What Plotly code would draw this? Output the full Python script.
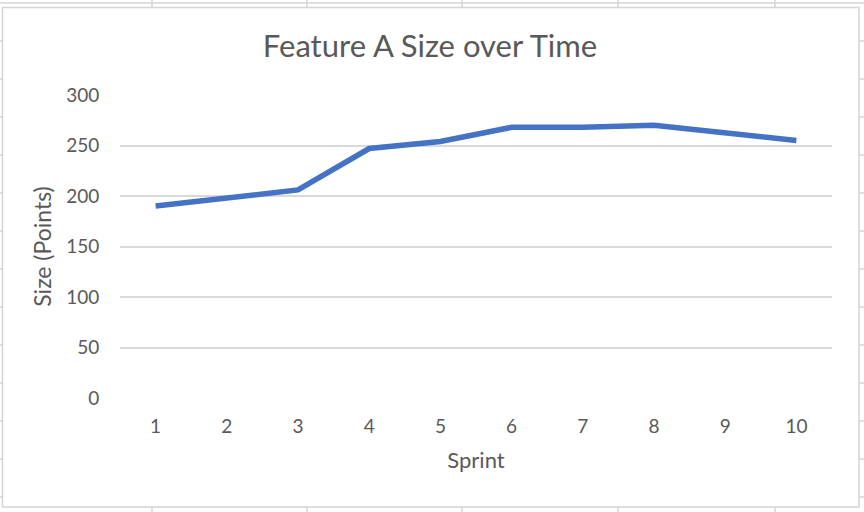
import plotly.graph_objects as go

W, H = 864, 512

sprints = ["1", "2", "3", "4", "5", "6", "7", "8", "9", "10"]
size_points = [190, 198, 206, 247, 254, 268, 268, 270, 263, 255]
y_ticks = [0, 50, 100, 150, 200, 250, 300]

TEXT = "#595959"
GRID = "#D9D9D9"
SHEET = "#D4D4D4"
FONT = "Lato"

# plot area in pixels
PL, PR, PT, PB = 120, 832, 95, 398


def px(x):
    return (x - PL) / (PR - PL)


def py(y):
    return (PB - y) / (PB - PT)


shapes = []
# spreadsheet background lines (outside the chart object)
for yy in [3]:
    shapes.append(dict(type="line", xref="paper", yref="paper", x0=px(0), x1=px(W), y0=py(yy), y1=py(yy),
                       line=dict(color=SHEET, width=1.5), layer="below"))
for yy in [41, 79, 117, 155, 193, 231, 269, 307, 345, 383, 421, 459, 497]:
    shapes.append(dict(type="line", xref="paper", yref="paper", x0=px(0), x1=px(3), y0=py(yy), y1=py(yy),
                       line=dict(color=SHEET, width=1.5), layer="below"))
    shapes.append(dict(type="line", xref="paper", yref="paper", x0=px(859), x1=px(W), y0=py(yy), y1=py(yy),
                       line=dict(color=SHEET, width=1.5), layer="below"))
for xx in [152, 307, 462, 618, 775]:
    shapes.append(dict(type="line", xref="paper", yref="paper", x0=px(xx), x1=px(xx), y0=py(0), y1=py(7),
                       line=dict(color=SHEET, width=1.5), layer="below"))
    shapes.append(dict(type="line", xref="paper", yref="paper", x0=px(xx), x1=px(xx), y0=py(507), y1=py(H),
                       line=dict(color=SHEET, width=1.5), layer="below"))
# chart object frame
shapes.append(dict(type="rect", xref="paper", yref="paper", x0=px(2.5), x1=px(859), y0=py(507), y1=py(7.5),
                   line=dict(color=SHEET, width=1.5), fillcolor="white", layer="below"))

fig = go.Figure()
fig.add_trace(go.Scatter(
    x=sprints, y=size_points, mode="lines",
    line=dict(color="#4472C4", width=5.5),
    hoverinfo="x+y", showlegend=False,
))

fig.update_layout(
    width=W, height=H,
    margin=dict(l=PL, r=W - PR, t=PT, b=H - PB, autoexpand=False),
    paper_bgcolor="white",
    plot_bgcolor="rgba(0,0,0,0)",
    font=dict(family=FONT, color=TEXT),
    shapes=shapes,
    title=dict(text="Feature A Size over Time", x=430 / W, xref="container", xanchor="center",
               y=1 - 46 / H, yref="container", yanchor="middle",
               font=dict(family=FONT, size=31, color=TEXT)),
    xaxis=dict(
        type="category", range=[-0.5, 9.5],
        showgrid=False, zeroline=False, showline=False,
        ticks="outside", ticklen=11, tickcolor="rgba(0,0,0,0)",
        tickfont=dict(size=19, color=TEXT),
        title=dict(text="Sprint", font=dict(size=22, color=TEXT), standoff=16),
    ),
    yaxis=dict(
        range=[0, 300], tickvals=y_ticks,
        showgrid=True, gridcolor=GRID, gridwidth=1.5,
        zeroline=False, showline=False,
        ticks="outside", ticklen=16, tickcolor="rgba(0,0,0,0)",
        tickfont=dict(size=19, color=TEXT),
        title=dict(text="Size (Points)", font=dict(size=23, color=TEXT), standoff=8),
    ),
)

fig.write_html("out.html")
